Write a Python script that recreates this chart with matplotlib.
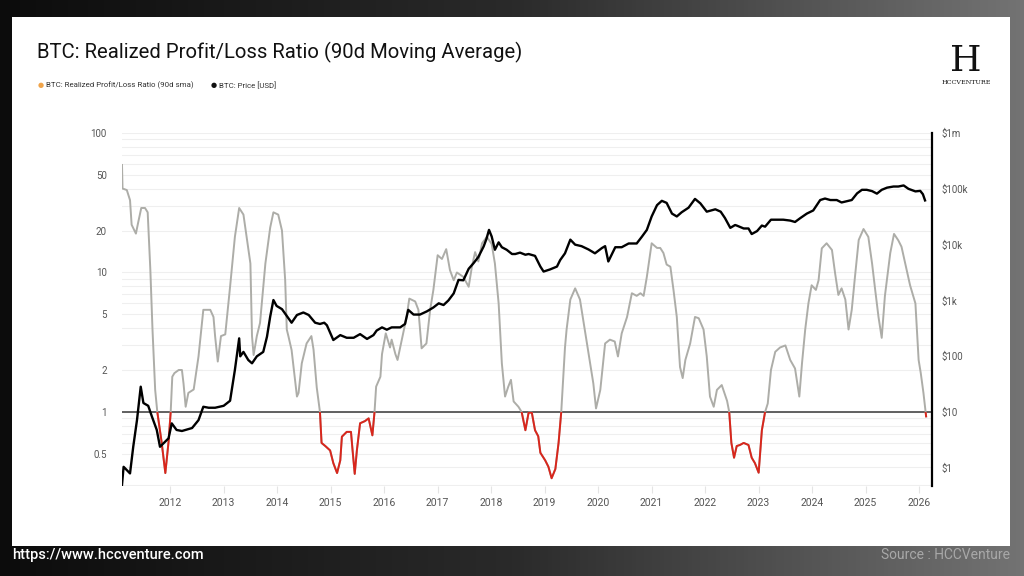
import numpy as np
import matplotlib
matplotlib.use("Agg")
import matplotlib.pyplot as plt
from matplotlib.colors import LinearSegmentedColormap
from matplotlib.patches import Rectangle
from matplotlib.ticker import LogLocator, NullFormatter, NullLocator, FixedLocator

plt.rcParams['font.family'] = ['Roboto', 'DejaVu Sans']

# Realized profit/loss ratio (90d sma)
ratio_year = [2011.10, 2011.11, 2011.19, 2011.25, 2011.28, 2011.36, 2011.40, 2011.46, 2011.53, 2011.58,
              2011.63, 2011.67, 2011.72, 2011.76, 2011.84, 2011.91, 2011.97, 2012.01, 2012.04, 2012.08,
              2012.16, 2012.22, 2012.25, 2012.29, 2012.34, 2012.44, 2012.53, 2012.62, 2012.75, 2012.81,
              2012.84, 2012.89, 2012.95, 2013.03, 2013.12, 2013.21, 2013.29, 2013.37, 2013.43, 2013.50,
              2013.53, 2013.56, 2013.62, 2013.68, 2013.78, 2013.87, 2013.93, 2014.02, 2014.09, 2014.15,
              2014.18, 2014.21, 2014.27, 2014.37, 2014.40, 2014.46, 2014.55, 2014.64, 2014.68, 2014.74,
              2014.80, 2014.83, 2014.90, 2014.99, 2015.05, 2015.12, 2015.18, 2015.21, 2015.30, 2015.38,
              2015.41, 2015.45, 2015.49, 2015.55, 2015.64, 2015.71, 2015.78, 2015.82, 2015.85, 2015.93,
              2015.96, 2016.03, 2016.11, 2016.14, 2016.21, 2016.25, 2016.33, 2016.42, 2016.47, 2016.58,
              2016.64, 2016.70, 2016.79, 2016.86, 2016.92, 2017.00, 2017.08, 2017.16, 2017.23, 2017.30,
              2017.36, 2017.48, 2017.58, 2017.64, 2017.70, 2017.76, 2017.83, 2017.92, 2018.01, 2018.07,
              2018.14, 2018.20, 2018.26, 2018.32, 2018.37, 2018.42, 2018.51, 2018.57, 2018.64, 2018.70,
              2018.76, 2018.82, 2018.88, 2018.92, 2019.01, 2019.07, 2019.13, 2019.20, 2019.26, 2019.31,
              2019.38, 2019.41, 2019.48, 2019.57, 2019.66, 2019.76, 2019.85, 2019.91, 2019.96, 2020.04,
              2020.13, 2020.22, 2020.31, 2020.37, 2020.44, 2020.54, 2020.63, 2020.72, 2020.79, 2020.85,
              2020.91, 2021.00, 2021.10, 2021.16, 2021.22, 2021.28, 2021.35, 2021.41, 2021.47, 2021.53,
              2021.58, 2021.63, 2021.72, 2021.81, 2021.88, 2021.97, 2022.03, 2022.09, 2022.16, 2022.22,
              2022.31, 2022.41, 2022.45, 2022.49, 2022.54, 2022.59, 2022.65, 2022.72, 2022.81, 2022.87,
              2022.93, 2023.00, 2023.06, 2023.12, 2023.17, 2023.23, 2023.31, 2023.40, 2023.50, 2023.59,
              2023.68, 2023.76, 2023.81, 2023.87, 2023.93, 2023.99, 2024.07, 2024.12, 2024.18, 2024.27,
              2024.37, 2024.43, 2024.49, 2024.55, 2024.62, 2024.68, 2024.74, 2024.80, 2024.87, 2024.96,
              2025.05, 2025.12, 2025.18, 2025.24, 2025.30, 2025.36, 2025.46, 2025.53, 2025.61, 2025.67,
              2025.74, 2025.83, 2025.93, 2025.99, 2026.03, 2026.08, 2026.11, 2026.13]
ratio_val = [59, 40, 39, 33, 22, 19, 22.6, 29, 29, 27,
             10.4, 3.9, 1.44, 1.0, 0.61, 0.365, 0.61, 1.0, 1.79, 1.9,
             2.0, 2.0, 1.6, 1.09, 1.37, 1.45, 2.5, 5.4, 5.4, 4.8,
             3.5, 2.3, 3.5, 3.6, 7.9, 18, 29, 26, 18, 11.6,
             3.5, 2.56, 3.5, 4.35, 11.6, 21, 27, 26, 20, 8.8,
             3.9, 3.5, 2.78, 1.29, 1.37, 2.23, 3.1, 3.5, 2.8, 1.5,
             1.0, 0.60, 0.57, 0.53, 0.43, 0.365, 0.45, 0.665, 0.72, 0.72,
             0.53, 0.36, 0.53, 0.83, 0.86, 0.9, 0.68, 1.0, 1.52, 1.79,
             2.6, 3.66, 2.9, 3.3, 2.6, 2.36, 3.3, 4.8, 6.5, 6.2,
             5.4, 2.86, 3.1, 5.4, 7.5, 13.3, 12.5, 14.7, 10.4, 8.8,
             10, 9.3, 7.9, 11, 14, 12, 16.2, 18, 16, 11.6,
             6, 2.23, 1.29, 1.52, 1.7, 1.19, 1.09, 1.0, 0.74, 0.99,
             0.99, 0.74, 0.67, 0.51, 0.45, 0.405, 0.335, 0.39, 0.6, 1.0,
             2.9, 3.9, 6.4, 7.7, 6.4, 3.66, 2.23, 1.6, 1.06, 1.44,
             3.1, 3.3, 3.2, 2.5, 3.66, 4.8, 7.1, 6.8, 7.1, 6.8,
             9.3, 16.2, 15, 15, 13.8, 11.4, 11, 7.4, 4.8, 2.1,
             1.75, 2.36, 3.1, 4.8, 4.7, 3.9, 2.5, 1.29, 1.09, 1.44,
             1.56, 1.2, 1.0, 0.6, 0.47, 0.57, 0.58, 0.60, 0.58, 0.47,
             0.43, 0.367, 0.74, 1.0, 1.15, 2.0, 2.7, 2.9, 3.0, 2.36,
             2.05, 1.29, 2.23, 3.9, 6, 8.1, 7.5, 8.8, 14.9, 16.2,
             14.5, 9.8, 6.9, 7.7, 6.4, 3.9, 5.4, 9.3, 17.1, 20.5,
             18, 11.6, 7.4, 4.8, 3.4, 6.8, 13.8, 18.9, 17, 15.3,
             11.6, 8.1, 6, 2.36, 1.9, 1.37, 1.09, 0.93]

# BTC price [USD]
price_year = [2011.10, 2011.13, 2011.25, 2011.31, 2011.38, 2011.45, 2011.50, 2011.59, 2011.66, 2011.75,
              2011.81, 2011.88, 2011.97, 2012.03, 2012.12, 2012.22, 2012.41, 2012.53, 2012.62, 2012.72,
              2012.84, 2013.00, 2013.12, 2013.21, 2013.29, 2013.31, 2013.37, 2013.46, 2013.53, 2013.62,
              2013.74, 2013.81, 2013.87, 2013.93, 2013.99, 2014.09, 2014.21, 2014.27, 2014.37, 2014.49,
              2014.59, 2014.71, 2014.80, 2014.88, 2014.93, 2015.05, 2015.18, 2015.30, 2015.43, 2015.55,
              2015.68, 2015.80, 2015.86, 2015.96, 2016.05, 2016.14, 2016.30, 2016.39, 2016.45, 2016.55,
              2016.67, 2016.80, 2016.92, 2017.02, 2017.11, 2017.20, 2017.30, 2017.39, 2017.48, 2017.58,
              2017.67, 2017.76, 2017.86, 2017.91, 2017.96, 2018.01, 2018.07, 2018.14, 2018.20, 2018.29,
              2018.39, 2018.45, 2018.54, 2018.64, 2018.70, 2018.82, 2018.92, 2018.98, 2019.10, 2019.23,
              2019.29, 2019.38, 2019.48, 2019.57, 2019.69, 2019.82, 2019.94, 2020.07, 2020.13, 2020.19,
              2020.32, 2020.44, 2020.57, 2020.72, 2020.82, 2020.91, 2021.00, 2021.10, 2021.19, 2021.28,
              2021.38, 2021.47, 2021.56, 2021.69, 2021.81, 2021.91, 2022.03, 2022.19, 2022.29, 2022.37,
              2022.47, 2022.56, 2022.59, 2022.72, 2022.81, 2022.87, 2022.97, 2023.06, 2023.12, 2023.23,
              2023.34, 2023.46, 2023.59, 2023.68, 2023.78, 2023.90, 2024.02, 2024.15, 2024.24, 2024.34,
              2024.46, 2024.55, 2024.65, 2024.74, 2024.84, 2024.93, 2025.02, 2025.12, 2025.21, 2025.30,
              2025.40, 2025.52, 2025.61, 2025.71, 2025.80, 2025.93, 2026.02, 2026.07, 2026.11]
price_val = [0.5, 1.05, 0.8, 2.4, 7.2, 28.6, 14.6, 13, 8.3, 4.8,
             2.4, 2.8, 3.4, 6.3, 4.8, 4.6, 5.2, 7.2, 12.5, 12,
             12, 13, 16, 57, 210, 100, 120, 86, 75, 100,
             120, 225, 515, 1020, 800, 700, 480, 400, 550, 610,
             550, 400, 380, 400, 360, 196, 240, 215, 215, 250,
             205, 240, 290, 330, 300, 330, 330, 380, 680, 560,
             560, 640, 750, 890, 830, 1000, 1340, 2340, 2300, 3700,
             4650, 6000, 9300, 12500, 18400, 14000, 8100, 11000, 9000, 8100,
             6800, 6800, 7200, 6600, 6800, 6300, 4050, 3300, 3600, 4050,
             5300, 7000, 12300, 10000, 9400, 8200, 7000, 8700, 9400, 5000,
             9000, 9000, 10500, 10500, 14000, 18400, 32000, 51000, 61000, 56000,
             36000, 32000, 38000, 46000, 66000, 55000, 39000, 43000, 39000, 30000,
             20000, 22500, 22000, 19500, 19500, 15500, 17500, 22000, 21000, 28000,
             28000, 28000, 27000, 25500, 30000, 36000, 41000, 63000, 67000, 63000,
             63000, 57000, 60000, 63000, 83000, 96000, 96000, 91000, 82000, 96000,
             105000, 110000, 110000, 115000, 100000, 90000, 92000, 80000, 62000]

year_ticks = list(range(2012, 2027))
left_ticks = [0.5, 1, 2, 5, 10, 20, 50, 100]
left_labels = ['0.5', '1', '2', '5', '10', '20', '50', '100']
right_ticks = [1, 10, 100, 1e3, 1e4, 1e5, 1e6]
right_labels = ['$1', '$10', '$100', '$1k', '$10k', '$100k', '$1m']

W, H = 1024, 576
fig = plt.figure(figsize=(W / 100, H / 100), dpi=100)

# dark gradient backdrop
bg = fig.add_axes([0, 0, 1, 1])
grad = np.linspace(0, 1, 256).reshape(1, -1)
cmap = LinearSegmentedColormap.from_list('bg', ['#0c0c0c', '#2a2a2a', '#737373'])
bg.imshow(grad, aspect='auto', cmap=cmap, extent=[0, 1, 0, 1])
bg.set_xlim(0, 1)
bg.set_ylim(0, 1)
bg.axis('off')
bg.add_patch(Rectangle((12 / W, 1 - 546 / H), (1010 - 12) / W, (546 - 17) / H,
                       facecolor='white', edgecolor='none'))

# title / legend
fig.text(37 / W, 1 - 52 / H, 'BTC: Realized Profit/Loss Ratio (90d Moving Average)',
         fontsize=14.6, color='#111111', va='center', ha='left')
fig.text(38 / W, 1 - 85 / H, '\u25cf', fontsize=5, color='#f0a44a', va='center')
fig.text(46 / W, 1 - 85 / H, 'BTC: Realized Profit/Loss Ratio (90d sma)', fontsize=5.7,
         color='#333333', va='center')
fig.text(211 / W, 1 - 85 / H, '\u25cf', fontsize=5, color='#111111', va='center')
fig.text(219 / W, 1 - 85 / H, 'BTC: Price [USD]', fontsize=5.7, color='#333333', va='center')

# logo
fig.text(966 / W, 1 - 61 / H, 'H', fontsize=26, family='DejaVu Serif', color='#111111',
         ha='center', va='center')
fig.text(966 / W, 1 - 83 / H, 'HCCVENTURE', fontsize=4.6, family='DejaVu Serif',
         color='#111111', ha='center', va='center')

# footer
fig.text(12 / W, 1 - 555 / H, 'https://www.hccventure.com', fontsize=10.5, color='white',
         fontweight='medium', va='center', ha='left')
fig.text(1010 / W, 1 - 555 / H, 'Source : HCCVenture', fontsize=10, color='#a8a8a8',
         va='center', ha='right')

# main chart
ax = fig.add_axes([122 / W, 1 - 486 / H, (932 - 122) / W, (486 - 133) / H])
ax.set_facecolor('none')
ax.set_yscale('log')
ax.set_xlim(2011.10, 2026.24)
ax.set_ylim(0.2947, 100)
for s in ax.spines.values():
    s.set_visible(False)

ax.yaxis.set_major_locator(FixedLocator(left_ticks))
ax.set_yticklabels(left_labels)
ax.yaxis.set_minor_locator(LogLocator(base=10, subs=np.arange(2, 10)))
ax.yaxis.set_minor_formatter(NullFormatter())
ax.tick_params(axis='y', which='both', length=0, labelsize=7, labelcolor='#555555', pad=11)
ax.set_xticks(year_ticks)
ax.set_xticklabels([str(y) for y in year_ticks])
ax.tick_params(axis='x', length=5, color='#e4e4e4', labelsize=7.5, labelcolor='#555555', pad=4)

# faint log grid (major + minor of left axis)
grid_vals = [m * 10.0 ** e for e in (-1, 0, 1) for m in range(1, 10)] + [100]
for g in grid_vals:
    if 0.2947 <= g <= 100:
        ax.axhline(g, color='#efefef', lw=0.8, zorder=0)

ax.axhline(1, color='#555555', lw=1.3, zorder=2)

ax.plot(ratio_year, ratio_val, color='#adada8', lw=1.4, zorder=3)
red, = ax.plot(ratio_year, ratio_val, color='#d9261c', lw=1.4, zorder=4)
clip = Rectangle((2011.0, 0.1), 16, 0.9, transform=ax.transData)
red.set_clip_path(clip)

ax2 = ax.twinx()
ax2.set_yscale('log')
ax2.set_ylim(0.476, 1e6)
for k, s in ax2.spines.items():
    s.set_visible(k == 'right')
ax2.spines['right'].set_color('black')
ax2.spines['right'].set_linewidth(1.6)
ax2.yaxis.set_major_locator(FixedLocator(right_ticks))
ax2.set_yticklabels(right_labels)
ax2.yaxis.set_minor_locator(NullLocator())
ax2.tick_params(axis='y', length=0, labelsize=7, labelcolor='#555555', pad=7)
ax2.plot(price_year, price_val, color='black', lw=1.7, zorder=5)

fig.savefig('out.png', dpi=100)
